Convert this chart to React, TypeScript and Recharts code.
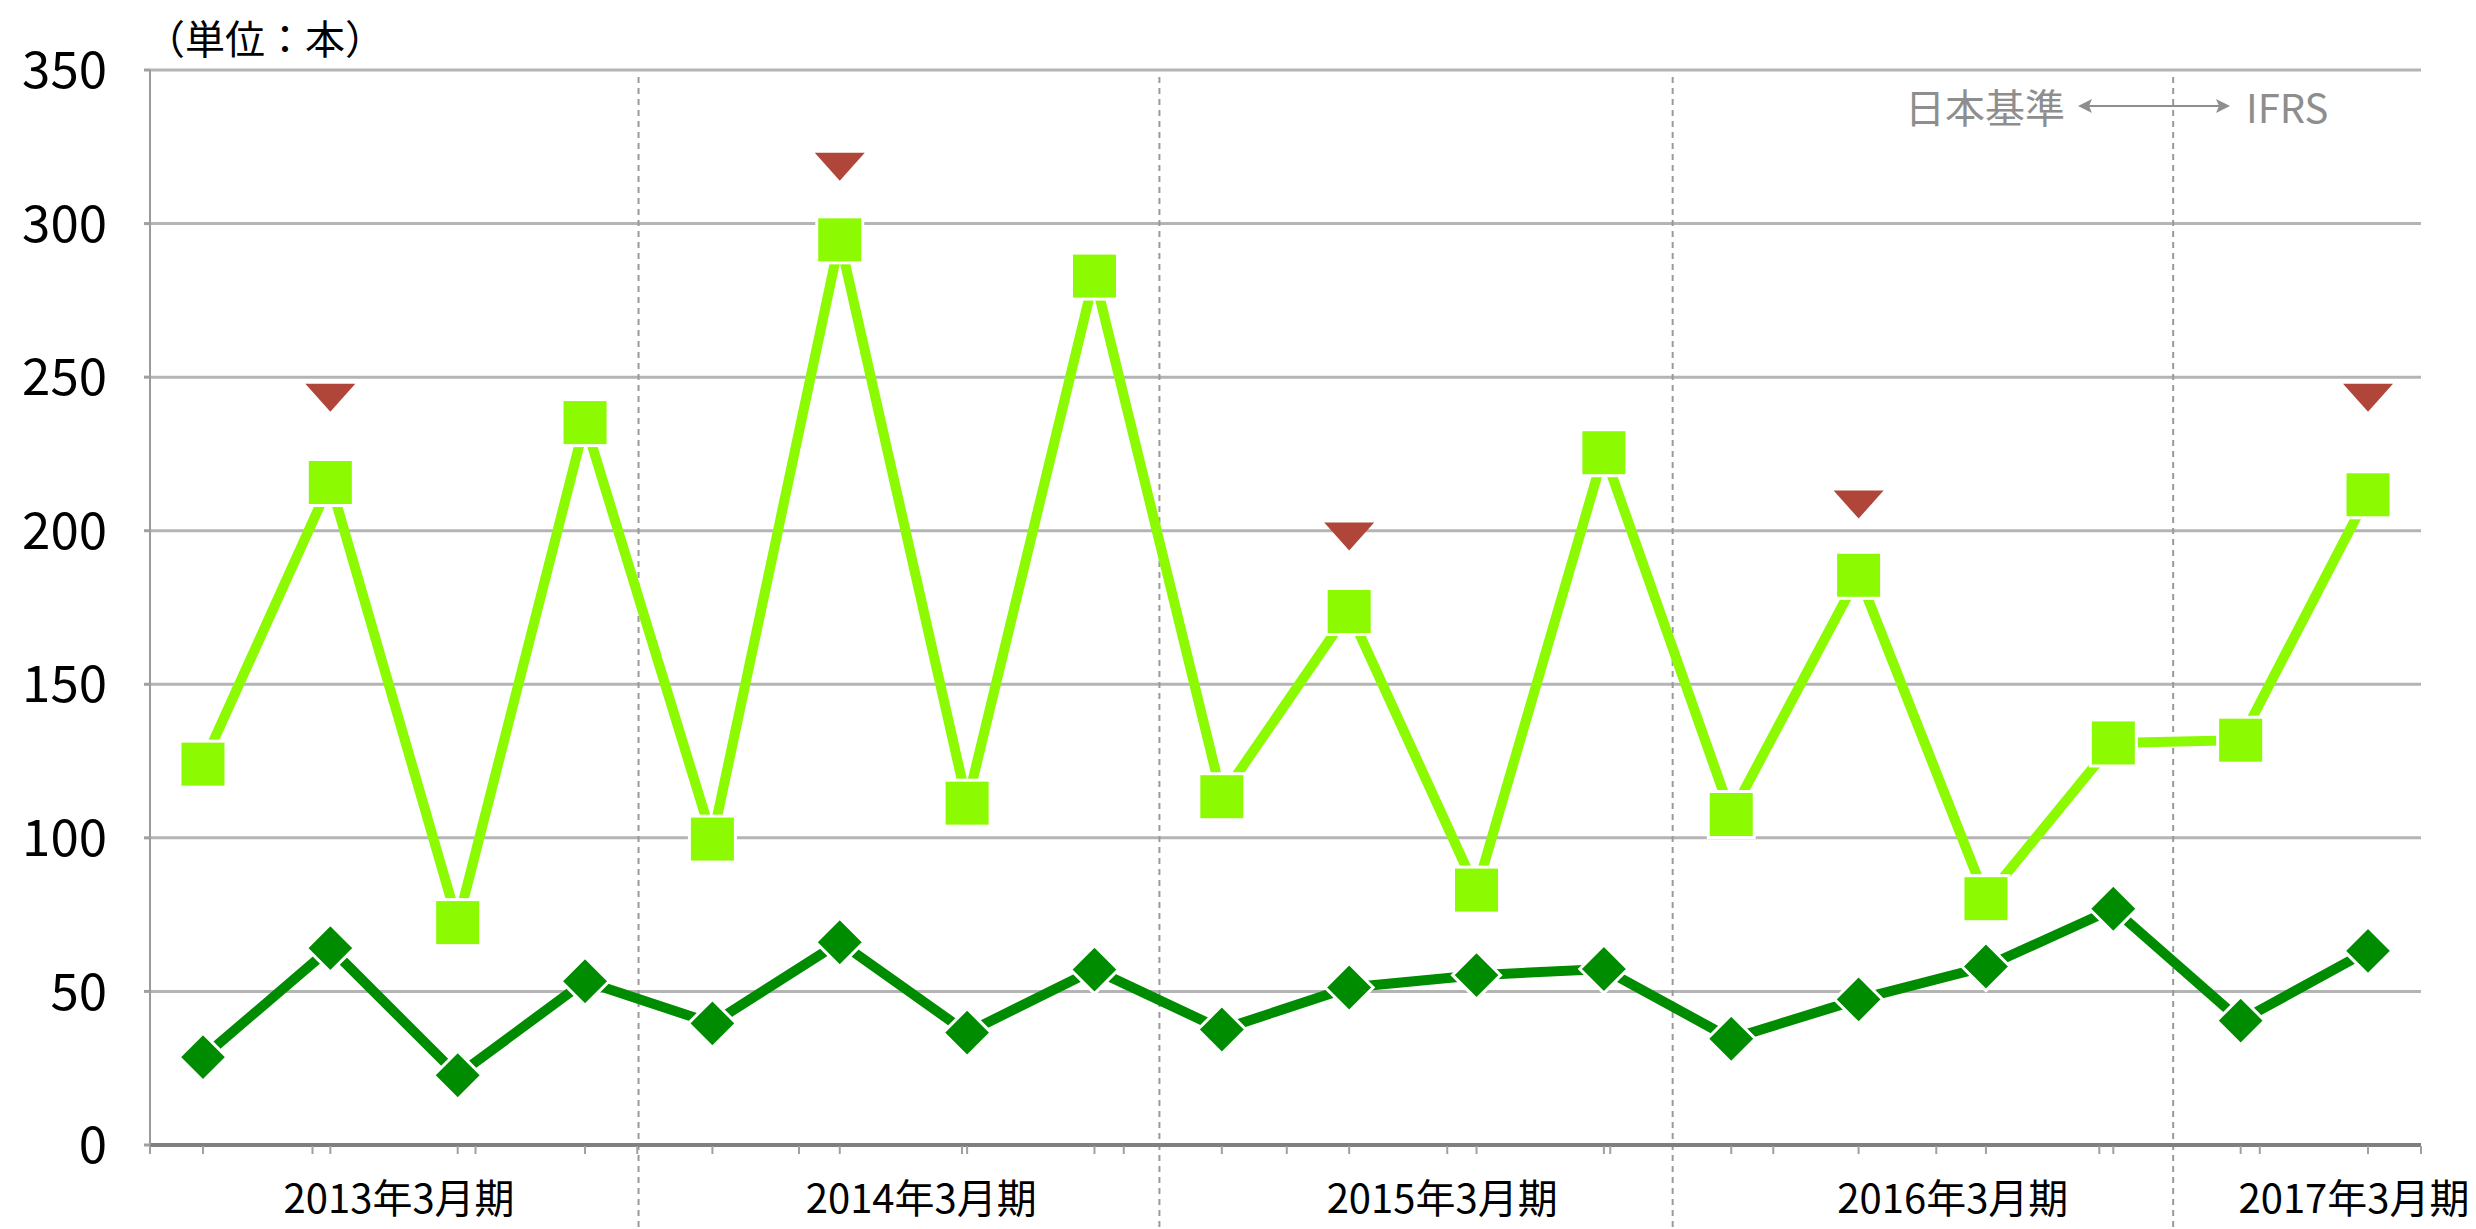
import React from 'react'
import {
  ComposedChart,
  Line,
  Scatter,
  XAxis,
  YAxis,
  CartesianGrid,
  ReferenceLine,
} from 'recharts'

// quarterly shipments, 18 quarters (FY2013/3 Q1 .. FY2017/3 Q2)
const totalUnits = [124, 215.7, 72.4, 235.2, 99.6, 294.7, 111.3, 282.9, 113.4, 173.7, 83.0, 225.4, 107.6, 185.5, 80.2, 130.9, 131.8, 211.7]
const subUnits = [28.6, 64.1, 22.7, 53.3, 39.6, 66.0, 36.6, 57.1, 37.6, 51.3, 55.3, 57.3, 34.6, 47.4, 58.1, 76.9, 40.5, 63.2]

// red markers above some quarters
const peakQuarters = [1, 5, 9, 13, 17]
const peakMarks = [243.3, 318.5, 198.1, 208.5, 243.3]

const fiscalYears = ['2013年3月期', '2014年3月期', '2015年3月期', '2016年3月期', '2017年3月期']
const fiscalYearPos = [1.54, 5.64, 9.73, 13.74, 16.89]
const boundaryPos = [3.42, 7.51, 11.54, 15.47]
const gridTickPos = [-0.416, 0.86, 2.14, 3.41, 4.68, 5.96, 7.23, 8.51, 9.77, 11.05, 12.33, 13.61, 14.89, 16.15, 17.416]
const yTicks = [0, 50, 100, 150, 200, 250, 300, 350]

const LIGHT = '#8cfa00'
const DARK = '#008c00'
const RED = '#b0463a'
const FONT = '"Noto Sans CJK JP", "Noto Sans", sans-serif'

const data = totalUnits.map((v, i) => ({ idx: i, total: v, sub: subUnits[i] }))
const peaks = peakQuarters.map((q, i) => ({ idx: q, mark: peakMarks[i] }))
const xTicks = [...data.map(d => d.idx), ...gridTickPos, ...fiscalYearPos].sort((a, b) => a - b)

const SquareDot = (p: any) => {
  if (p.cx == null || p.cy == null) return <g key={p.key} />
  return <rect key={p.key} x={p.cx - 23} y={p.cy - 23} width={46} height={46} fill={LIGHT} stroke="#fff" strokeWidth={3} />
}

const DiamondDot = (p: any) => {
  if (p.cx == null || p.cy == null) return <g key={p.key} />
  const { cx, cy } = p
  return (
    <polygon
      key={p.key}
      points={`${cx},${cy - 24} ${cx + 24},${cy} ${cx},${cy + 24} ${cx - 24},${cy}`}
      fill={DARK}
      stroke="#fff"
      strokeWidth={3}
    />
  )
}

const Triangle = (p: any) => {
  const { cx, cy } = p
  return <polygon points={`${cx - 25},${cy - 14} ${cx + 25},${cy - 14} ${cx},${cy + 14}`} fill={RED} />
}

// dashed fiscal-year separators run from just under the top gridline to the bottom edge
const BoundaryLine = (p: any) => {
  const top = Math.min(p.y1, p.y2)
  const bottom = Math.max(p.y1, p.y2)
  return <line x1={p.x1} y1={top + 7} x2={p.x2} y2={bottom + 84} stroke="#9a9a9a" strokeWidth={2} strokeDasharray="6 5" />
}

// small tick marks under the axis, fiscal-year labels further down
const XTick = (p: any) => {
  const { x, y, payload } = p
  const yi = fiscalYearPos.indexOf(payload.value)
  if (yi >= 0) {
    return (
      <text x={x} y={y + 68} textAnchor="middle" fontSize={40} fontFamily={FONT} fill="#000">
        {fiscalYears[yi]}
      </text>
    )
  }
  return <line x1={x} y1={y + 1} x2={x} y2={y + 9} stroke="#a0a0a0" strokeWidth={2} />
}

export default function App() {
  return (
    <div style={{ position: 'absolute', left: 0, top: 0, width: 2476, height: 1229, background: '#fff', fontFamily: FONT }}>
      <ComposedChart width={2476} height={1229} data={data} margin={{ top: 70, right: 55, bottom: 0, left: 0 }}>
        <CartesianGrid vertical={false} stroke="#b4b4b4" strokeWidth={3} />
        {boundaryPos.map(x => (
          <ReferenceLine key={x} x={x} shape={BoundaryLine} />
        ))}
        <XAxis
          type="number"
          dataKey="idx"
          domain={[-0.416, 17.416]}
          ticks={xTicks}
          interval={0}
          height={84}
          tick={XTick}
          tickLine={false}
          tickSize={0}
          tickMargin={0}
          axisLine={{ stroke: '#7f7f7f', strokeWidth: 4 }}
          allowDataOverflow
        />
        <YAxis
          domain={[0, 350]}
          ticks={yTicks}
          interval={0}
          width={150}
          tickSize={6}
          tickMargin={37}
          tickLine={{ stroke: '#a0a0a0', strokeWidth: 3 }}
          axisLine={{ stroke: '#9a9a9a', strokeWidth: 2 }}
          tick={{ fill: '#000', fontSize: 51, fontFamily: FONT }}
        />
        <Line
          dataKey="total"
          stroke={LIGHT}
          strokeWidth={10}
          dot={SquareDot}
          activeDot={false}
          isAnimationActive={false}
        />
        <Line
          dataKey="sub"
          stroke={DARK}
          strokeWidth={10}
          dot={DiamondDot}
          activeDot={false}
          isAnimationActive={false}
        />
        <Scatter data={peaks} dataKey="mark" shape={Triangle} isAnimationActive={false} />
      </ComposedChart>
      <svg width={2476} height={1229} style={{ position: 'absolute', left: 0, top: 0, pointerEvents: 'none' }}>
        <text x={145} y={37} fontSize={40} fontFamily={FONT} fill="#000" dominantBaseline="central">（単位：本）</text>
        <text x={2065} y={106} fontSize={40} fontFamily={FONT} fill="#8e8e8e" textAnchor="end" dominantBaseline="central">日本基準</text>
        <line x1={2082} y1={106} x2={2226} y2={106} stroke="#8e8e8e" strokeWidth={2} />
        <polygon points="2078,106 2092,99 2089,106 2092,113" fill="#8e8e8e" />
        <polygon points="2230,106 2216,99 2219,106 2216,113" fill="#8e8e8e" />
        <text x={2246} y={106} fontSize={40} fontFamily={FONT} fill="#8e8e8e" dominantBaseline="central">IFRS</text>
      </svg>
    </div>
  )
}
